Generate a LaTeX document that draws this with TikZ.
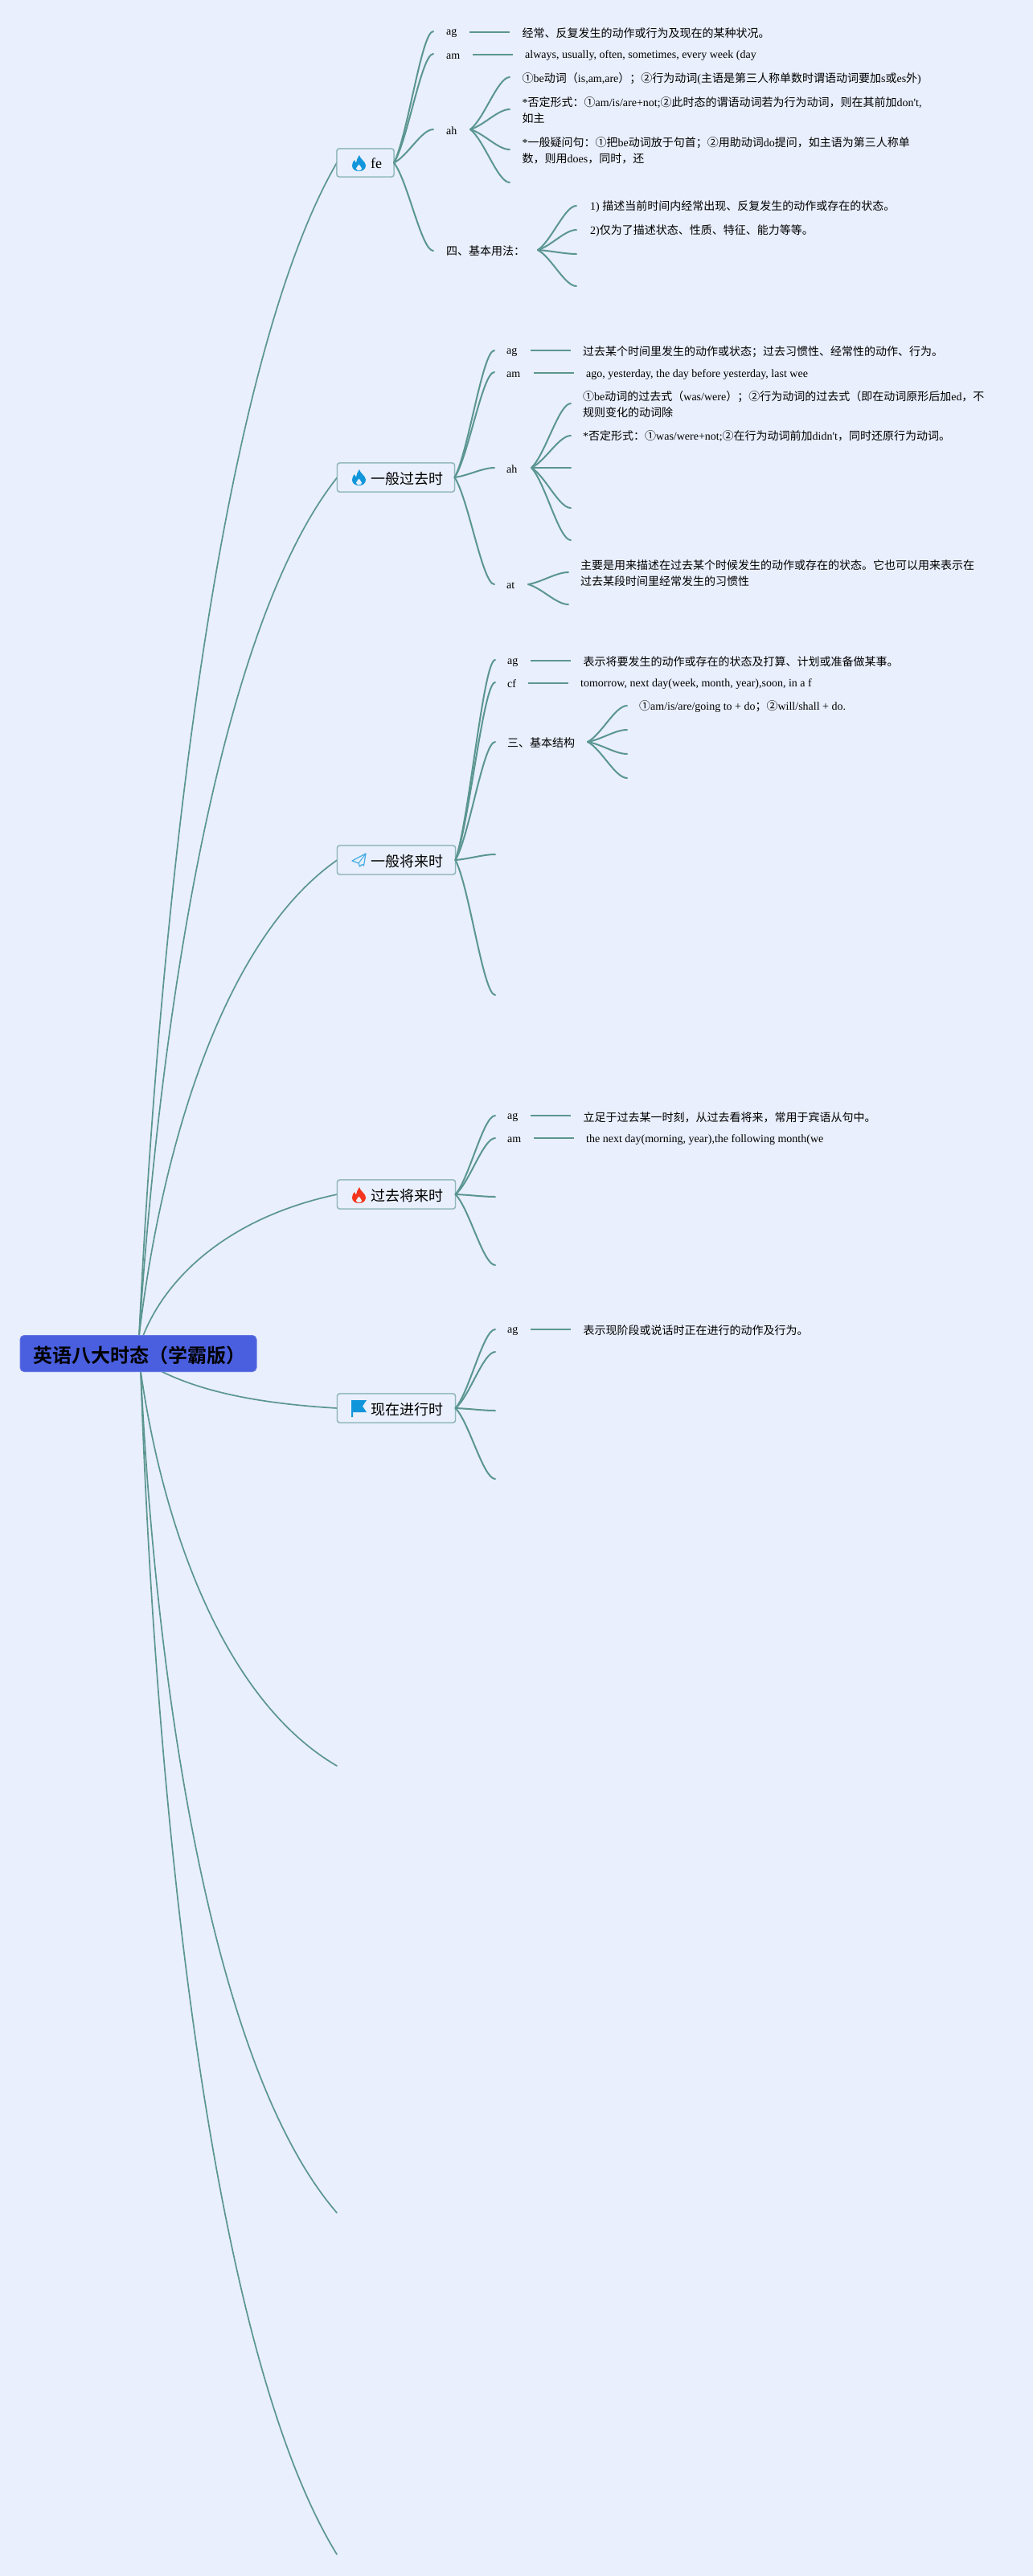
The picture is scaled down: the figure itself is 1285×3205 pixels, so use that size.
\documentclass[tikz,border=0pt]{standalone}
\usepackage{fontspec}
\usetikzlibrary{calc}
\newfontfamily\latn{Liberation Serif}
\newfontfamily\cjkf{Noto Sans CJK SC}
\newfontfamily\cjkb{Noto Sans CJK SC Bold}
\newcommand\cn[1]{{\cjkf #1}}
\definecolor{pagebg}{HTML}{E9EFFC}
\definecolor{linkc}{HTML}{5B9690}
\definecolor{boxline}{HTML}{8FB7BC}
\definecolor{rootc}{HTML}{4A5FDF}
\definecolor{iconb}{HTML}{1296DB}
\definecolor{iconr}{HTML}{F4341C}
\tikzset{
  link/.style={draw=linkc,line width=1.7pt,line cap=round},
  clink/.style={draw=linkc,line width=2pt,line cap=round},
  stub/.style={draw=linkc,line width=2pt},
  branch/.style={draw=boxline,line width=1.4pt,fill=pagebg,rounded corners=3pt,minimum height=36pt,inner sep=0pt,outer sep=0pt},
  lab/.style={anchor=west,inner sep=0pt,font=\latn\fontsize{14}{20}\selectfont},
  body/.style={anchor=west,inner sep=0pt,align=left,font=\latn\fontsize{14}{20}\selectfont},
  btext/.style={anchor=west,inner sep=0pt,font=\latn\fontsize{18}{22}\selectfont},
}
% child connector: S-shaped, ends flat
\newcommand\conn[2]{\path[clink] (#1) let \p1=(#1),\p2=(#2),\n1={\x2-\x1},\n2={\y2-\y1} in
  .. controls (\x1+.35*\n1,\y1+.2*\n2) and (\x1+.7*\n1,\y2) .. (#2);}
% long connector from the root
\newcommand\rlink[4]{\path[link] (#1) let \p1=(#1),\p2=(#2),\n1={\x2-\x1},\n2={\y2-\y1} in
  .. controls (\x1+#3*\n1,\y1+.385*\n2) and (\x1+#4*\n1,\y1+.83*\n2) .. (#2);}
% straight stub between a label and its text
\newcommand\hstub[4]{\coordinate (#1a) at (#2,#4); \coordinate (#1b) at (#3,#4); \path[stub] (#1a) -- (#1b);}
% icons, box origin at upper left
\newcommand\flame[3]{\begin{scope}[shift={(#2,#3)}]
  \fill[#1] (9,0) .. controls (10,5) and (17,8) .. (17,13) .. controls (17,17.5) and (13,20) .. (8.5,20)
    .. controls (4,20) and (0,17.5) .. (0,13) .. controls (0,10) and (1.5,7.5) .. (3,6)
    .. controls (3.5,8) and (4.5,9) .. (5,9.5) .. controls (5.5,6) and (7,3) .. (9,0) -- cycle;
  \fill[pagebg] (8.5,11.5) .. controls (9,13.5) and (12,14.5) .. (12,16.5) .. controls (12,18) and (10.5,19.3) .. (8.5,19.3)
    .. controls (6.5,19.3) and (5,18) .. (5,16.5) .. controls (5,14.5) and (8,13.5) .. (8.5,11.5) -- cycle;
\end{scope}}
\begin{document}
\begin{tikzpicture}[x=1pt,y=-1pt]
\useasboundingbox (0,0) rectangle (1285,3205);
\fill[pagebg] (0,0) rectangle (1285,3205);

% end points at the root
\coordinate (rN) at (173,1662);
\coordinate (rP) at (178,1662);
\coordinate (rS) at (175,1706);
\coordinate (rQ) at (180,1695);
% empty main branches
\coordinate (e1) at (419,2197);
\coordinate (e2) at (419,2753);
\coordinate (e3) at (419,3178);

% branch boxes
\node[branch,minimum width=71pt,minimum height=35pt] (fe) at (454.5,202.5) {};
\node[branch,minimum width=146pt] (past) at (492.5,594) {};
\node[branch,minimum width=147pt] (fut) at (493,1070) {};
\node[branch,minimum width=147pt] (pf) at (493,1486) {};
\node[branch,minimum width=147pt] (pres) at (493,1752) {};

% root connectors
\rlink{rN}{fe.west}{.11}{.415}
\rlink{rN}{past.west}{.11}{.415}
\rlink{rN}{fut.west}{.11}{.415}
\rlink{rP}{pf.west}{.11}{.415}
\path[link] (rQ) .. controls (230,1725) and (300,1745) .. (pres.west);
\rlink{rS}{e1}{.11}{.415}
\rlink{rS}{e2}{.08}{.37}
\rlink{rS}{e3}{.08}{.37}

% redraw boxes above the connector ends
\node[branch,minimum width=71pt,minimum height=35pt] (feb) at (454.5,202.5) {};
\node[branch,minimum width=146pt] (pastb) at (492.5,594) {};
\node[branch,minimum width=147pt] (futb) at (493,1070) {};
\node[branch,minimum width=147pt] (pfb) at (493,1486) {};
\node[branch,minimum width=147pt] (presb) at (493,1752) {};

% root
\node[draw=rootc!85!white,line width=1pt,fill=rootc,rounded corners=5pt,minimum width=294pt,minimum height=45pt,inner sep=0pt] (root) at (172,1684) {};
\node[anchor=west,inner sep=0pt,font=\cjkb\fontsize{24}{28}\selectfont] (roott) at (41,1686) {英语八大时态（学霸版）};

% branch icons and labels
\flame{iconb}{438}{193}
\node[btext] (fet) at (461,203) {fe};
\flame{iconb}{438}{584}
\node[btext] (pastt) at (461,595.5) {\cn{一般过去时}};
\draw[iconb!80!white,line width=1.2pt,line join=round] (455,1062) -- (438,1071) -- (446,1074) -- (447.5,1078) -- (450.5,1075.5) -- (452.5,1077) -- cycle;
\draw[iconb!80!white,line width=1pt] (455,1062) -- (446,1074);
\node[btext] (futt) at (461,1071.5) {\cn{一般将来时}};
\flame{iconr}{438}{1477}
\node[btext] (pft) at (461,1487.5) {\cn{过去将来时}};
\fill[iconb] (437,1742) -- (456,1742) -- (451,1749.5) -- (456,1757) -- (439,1757) -- (439,1763) -- (437,1763) -- cycle;
\node[btext] (prest) at (461,1753.5) {\cn{现在进行时}};

% ---- fe
\coordinate (fag) at (539,39); \coordinate (fam) at (539,67); \coordinate (fah) at (539,161); \coordinate (fsi) at (539,312);
\conn{fe.east}{fag}\conn{fe.east}{fam}\conn{fe.east}{fah}\conn{fe.east}{fsi}
\node[lab] (tfag) at (555,41) {ag};
\node[lab] (tfam) at (555,70) {am};
\node[lab] (tfah) at (555,163) {ah};
\node[lab] (tfsi) at (555,312.5) {\cn{四、基本用法：}};
\hstub{s1}{584}{634}{40}
\hstub{s2}{588}{638}{68}
\node[body] (b1) at (649.5,41) {\cn{经常、反复发生的动作或行为及现在的某种状况。}};
\node[body] (b2) at (653,69.5) {always, usually, often, sometimes, every week (day};
\coordinate (fah0) at (585,161);
\foreach \k/\yy in {a/96,b/136,c/186,d/227} {\coordinate (fah\k) at (634,\yy); \conn{fah0}{fah\k}}
\node[body] (b3) at (649.5,97.5) {\cn{①}be\cn{动词（}is,am,are\cn{）；②行为动词}(\cn{主语是第三人称单数时谓语动词要加}s\cn{或}es\cn{外})};
\node[body] (b4) at (649.5,137) {*\cn{否定形式：①}am/is/are+not;\cn{②此时态的谓语动词若为行为动词，则在其前加}don't,\\\cn{如主}};
\node[body] (b5) at (649.5,187) {*\cn{一般疑问句：①把}be\cn{动词放于句首；②用助动词}do\cn{提问，如主语为第三人称单}\\\cn{数，则用}does\cn{，同时，还}};
\coordinate (fsi0) at (669,311);
\foreach \k/\yy in {a/256,b/286,c/316,d/356} {\coordinate (fsi\k) at (717,\yy); \conn{fsi0}{fsi\k}}
\node[body] (b6) at (734,257.5) {1) \cn{描述当前时间内经常出现、反复发生的动作或存在的状态。}};
\node[body] (b7) at (734,287.5) {2)\cn{仅为了描述状态、性质、特征、能力等等。}};

% ---- past
\coordinate (pag) at (615,436); \coordinate (pam) at (615,463); \coordinate (pah) at (615,582); \coordinate (pat) at (615,727);
\conn{past.east}{pag}\conn{past.east}{pam}\conn{past.east}{pah}\conn{past.east}{pat}
\node[lab] (tpag) at (630,438) {ag};
\node[lab] (tpam) at (630,466) {am};
\node[lab] (tpah) at (630,584) {ah};
\node[lab] (tpat) at (630,729) {at};
\hstub{s3}{660}{710}{436}
\hstub{s4}{664}{714}{464}
\node[body] (b8) at (725,438) {\cn{过去某个时间里发生的动作或状态；过去习惯性、经常性的动作、行为。}};
\node[body] (b9) at (729,466) {ago, yesterday, the day before yesterday, last wee};
\coordinate (pah0) at (661,582);
\foreach \k/\yy in {a/502,b/542,c/582,d/632,e/672} {\coordinate (pah\k) at (710,\yy); \conn{pah0}{pah\k}}
\node[body] (b10) at (725,503) {\cn{①}be\cn{动词的过去式（}was/were\cn{）；②行为动词的过去式（即在动词原形后加}ed\cn{，不}\\\cn{规则变化的动词除}};
\node[body] (b11) at (725,543) {*\cn{否定形式：①}was/were+not;\cn{②在行为动词前加}didn't\cn{，同时还原行为动词。}};
\coordinate (pat0) at (657,727);
\foreach \k/\yy in {a/712,b/752} {\coordinate (pat\k) at (707,\yy); \conn{pat0}{pat\k}}
\node[body] (b12) at (722,713) {\cn{主要是用来描述在过去某个时候发生的动作或存在的状态。它也可以用来表示在}\\\cn{过去某段时间里经常发生的习惯性}};

% ---- future
\foreach \k/\yy in {a/821,b/849,c/923,d/1063,e/1238} {\coordinate (fu\k) at (616,\yy); \conn{fut.east}{fu\k}}
\node[lab] (tfua) at (631,824) {ag};
\node[lab] (tfub) at (631,851) {cf};
\node[lab] (tfuc) at (631,924) {\cn{三、基本结构}};
\hstub{s5}{660}{710}{822}
\hstub{s6}{657}{707}{850}
\node[body] (b13) at (725.5,823) {\cn{表示将要发生的动作或存在的状态及打算、计划或准备做某事。}};
\node[body] (b14) at (722,851) {tomorrow, next day(week, month, year),soon, in a f};
\coordinate (fuc0) at (731,923);
\foreach \k/\yy in {a/878,b/908,c/938,d/968} {\coordinate (fuc\k) at (780,\yy); \conn{fuc0}{fuc\k}}
\node[body] (b15) at (795,879) {\cn{①}am/is/are/going to + do\cn{；②}will/shall + do.};

% ---- past future
\foreach \k/\yy in {a/1388,b/1416,c/1489,d/1574} {\coordinate (pf\k) at (616,\yy); \conn{pf.east}{pf\k}}
\node[lab] (tpfa) at (631,1390) {ag};
\node[lab] (tpfb) at (631,1418) {am};
\hstub{s7}{660}{710}{1388}
\hstub{s8}{664}{714}{1416}
\node[body] (b16) at (725.5,1390) {\cn{立足于过去某一时刻，从过去看将来，常用于宾语从句中。}};
\node[body] (b17) at (729,1418) {the next day(morning, year),the following month(we};

% ---- present continuous
\foreach \k/\yy in {a/1654,b/1682,c/1755,d/1840} {\coordinate (pr\k) at (616,\yy); \conn{pres.east}{pr\k}}
\node[lab] (tpra) at (631,1656) {ag};
\hstub{s9}{660}{710}{1654}
\node[body] (b18) at (725.5,1655) {\cn{表示现阶段或说话时正在进行的动作及行为。}};
\end{tikzpicture}
\end{document}
